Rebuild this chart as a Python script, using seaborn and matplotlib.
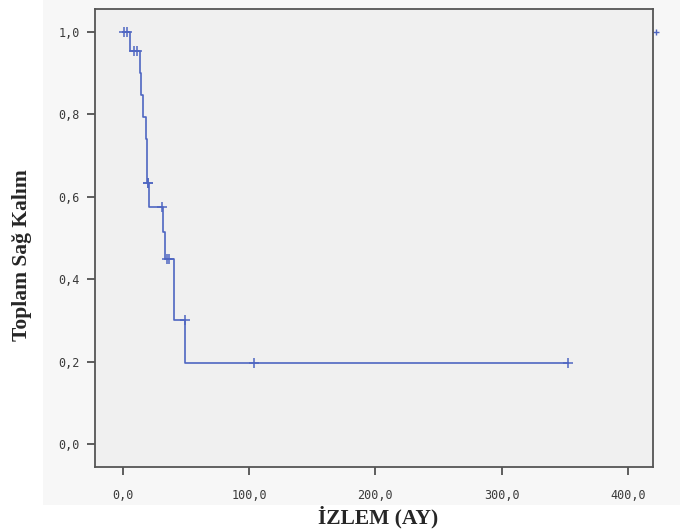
import numpy as np
import pandas as pd
import matplotlib.pyplot as plt
import seaborn as sns
from matplotlib.patches import Rectangle

# Kaplan-Meier step points (time in months, cumulative survival)
event_time = [0.0, 6.0, 13.4, 14.8, 15.8, 18.2, 19.2, 20.8, 32.0, 33.7, 40.3, 49.0, 352.6]
survival = [1.0, 0.955, 0.901, 0.847, 0.793, 0.740, 0.633, 0.576, 0.514, 0.448, 0.301, 0.197, 0.197]

# censored observations
cens_time = [1.0, 3.0, 8.5, 11.0, 19.6, 20.2, 31.4, 35.4, 37.0, 49.5, 104.0, 352.6]
cens_surv = [1.0, 1.0, 0.955, 0.955, 0.633, 0.633, 0.576, 0.448, 0.448, 0.301, 0.197, 0.197]
extra_time = [422.5]
extra_surv = [1.0]

x_ticks = [0, 100, 200, 300, 400]
y_ticks = [0.0, 0.2, 0.4, 0.6, 0.8, 1.0]

sns.set_style('ticks')
plt.rcParams['font.family'] = ['DejaVu Sans Mono', 'DejaVu Sans']

line_color = '#4f66c2'

fig = plt.figure(figsize=(6.8, 5.3), dpi=100)
fig.patch.set_facecolor('white')
fig.patches.append(Rectangle((43 / 680, 1 - 505 / 530), 637 / 680, 505 / 530,
                             transform=fig.transFigure, facecolor='#f7f7f7',
                             edgecolor='none', zorder=-10))

ax = fig.add_axes([95 / 680, 1 - 467 / 530, 558 / 680, 458 / 530])
ax.set_facecolor('#f0f0f0')

km = pd.DataFrame({'time': event_time, 'surv': survival})
sns.lineplot(data=km, x='time', y='surv', ax=ax, drawstyle='steps-post',
             color=line_color, linewidth=1.2, estimator=None)

cens = pd.DataFrame({'time': cens_time, 'surv': cens_surv})
sns.scatterplot(data=cens, x='time', y='surv', ax=ax, marker='+', s=55,
                color=line_color, linewidth=1.1, zorder=3)
ax.plot(extra_time, extra_surv, marker='+', markersize=5, color=line_color,
        linestyle='none', clip_on=False, zorder=1)

ax.set_xlim(-22, 420)
ax.set_ylim(-0.056, 1.056)
ax.set_xticks(x_ticks)
ax.set_xticklabels([f'{v:.1f}'.replace('.', ',') for v in x_ticks])
ax.set_yticks(y_ticks)
ax.set_yticklabels([f'{v:.1f}'.replace('.', ',') for v in y_ticks])
ax.tick_params(axis='both', direction='out', length=6, width=1.2,
               color='#444444', labelsize=8.5, labelcolor='#3a3a3a', pad=5)
ax.tick_params(axis='x', pad=10)
for side in ['top', 'right', 'left', 'bottom']:
    ax.spines[side].set_visible(True)
    ax.spines[side].set_color('#555555')
    ax.spines[side].set_linewidth(1.3)
    ax.spines[side].set_zorder(5)

ax.set_xlabel('')
ax.set_ylabel('')
fig.text(378 / 680, 1 - 517 / 530, 'İZLEM (AY)', ha='center', va='center',
         family='Liberation Serif', fontweight='bold', fontsize=15.5)
fig.text(22 / 680, 1 - 255 / 530, 'Toplam Sağ Kalım', ha='center', va='center',
         rotation=90, family='Liberation Serif', fontweight='bold', fontsize=15.5)

fig.savefig('out.png', dpi=100)
